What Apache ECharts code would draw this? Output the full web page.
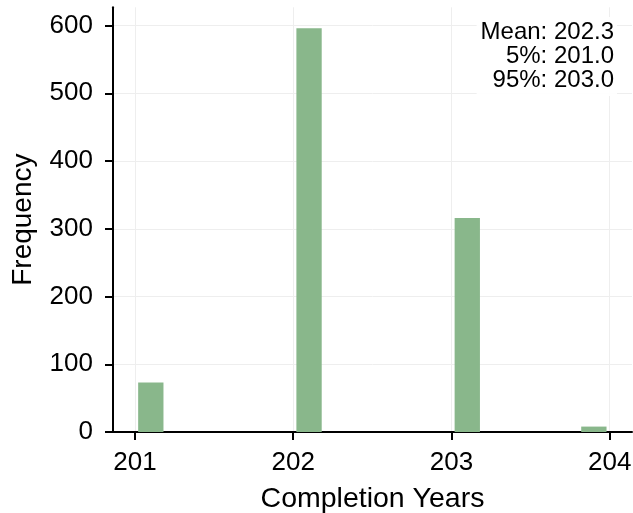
<!DOCTYPE html>
<html>
<head>
<meta charset="utf-8">
<script src="https://cdn.jsdelivr.net/npm/echarts@6/dist/echarts.min.js"></script>
<style>html,body{margin:0;padding:0;background:#fff;}#c{width:633px;height:513px;}</style>
</head>
<body>
<div id="c"></div>
<script>
// Data
var binStarts = [201.0, 202.0, 203.0, 203.8];
var binWidth = 0.2;
var counts = [73, 596, 316, 8];
var xTicks = [201, 202, 203, 204];
var yTicks = [0, 100, 200, 300, 400, 500, 600];
var statsLines = ['Mean: 202.3', '5%: 201.0', '95%: 203.0'];

var FONT = 'Liberation Sans, Arial, Helvetica, sans-serif';
var barColor = '#89b78b';
var rwidth = 0.8;

var seriesData = binStarts.map(function (s, i) { return [s, s + binWidth, counts[i]]; });

var chart = echarts.init(document.getElementById('c'), null, { renderer: 'canvas' });
chart.setOption({
  animation: false,
  backgroundColor: '#fff',
  grid: { left: 113, right: 1, top: 7.3, bottom: 81, containLabel: false, outerBoundsMode: 'none' },
  xAxis: {
    type: 'value',
    min: 200.861,
    max: 204.141,
    name: 'Completion Years',
    nameLocation: 'middle',
    nameGap: 53,
    nameTextStyle: { fontFamily: FONT, fontSize: 28.5, color: '#000' },
    axisLine: { show: true, onZero: false, lineStyle: { color: '#000', width: 2 } },
    axisTick: { show: true, length: 8, lineStyle: { color: '#000', width: 2 }, customValues: xTicks },
    axisLabel: { customValues: xTicks, margin: 18, fontFamily: FONT, fontSize: 26, color: '#000',
      formatter: function (v) { return String(v); } },
    splitLine: { show: true, lineStyle: { color: '#eeeeee', width: 1 } }
  },
  yAxis: {
    type: 'value',
    min: 0,
    max: 627,
    name: 'Frequency',
    nameLocation: 'middle',
    nameGap: 76,
    nameTextStyle: { fontFamily: FONT, fontSize: 28, color: '#000' },
    axisLine: { show: true, lineStyle: { color: '#000', width: 2 } },
    axisTick: { show: true, length: 8, lineStyle: { color: '#000', width: 2 }, customValues: yTicks },
    axisLabel: { customValues: yTicks, margin: 20, fontFamily: FONT, fontSize: 26, color: '#000' },
    splitLine: { show: true, lineStyle: { color: '#eeeeee', width: 1 } }
  },
  series: [{
    type: 'custom',
    data: seriesData,
    encode: { x: [0, 1], y: 2 },
    renderItem: function (params, api) {
      var a = api.value(0), b = api.value(1), v = api.value(2);
      var gap = (b - a) * (1 - rwidth) / 2;
      var p0 = api.coord([a + gap, v]);
      var p1 = api.coord([b - gap, 0]);
      return {
        type: 'rect',
        shape: { x: p0[0], y: p0[1], width: p1[0] - p0[0], height: p1[1] - p0[1] },
        style: { fill: barColor }
      };
    }
  }],
  graphic: [{
    type: 'text',
    x: 617,
    y: 17,
    z: 100,
    style: {
      text: statsLines.join('\n'),
      font: '24px ' + FONT,
      fill: '#000',
      align: 'right',
      verticalAlign: 'top',
      lineHeight: 24,
      backgroundColor: 'rgba(255,255,255,0.9)',
      padding: [3, 3, 4, 4]
    }
  }]
});
</script>
</body>
</html>
